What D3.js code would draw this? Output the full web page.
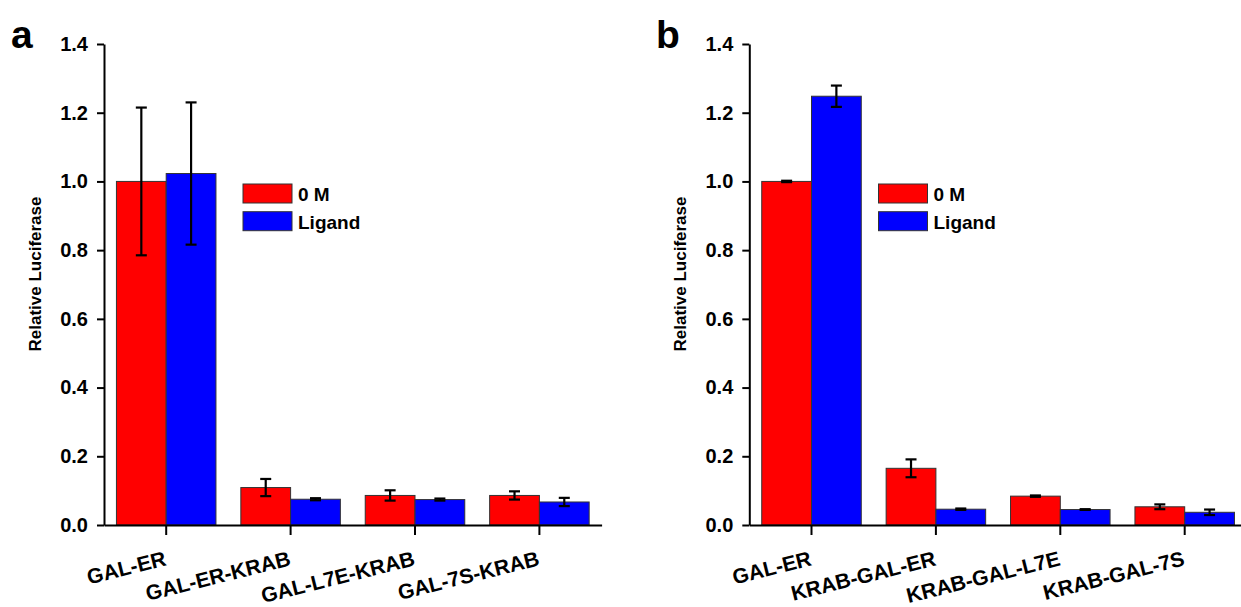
<!DOCTYPE html>
<html>
<head>
<meta charset="utf-8">
<script src="https://cdn.jsdelivr.net/npm/d3@7"></script>
<style>
  html, body { margin: 0; padding: 0; background: #fff; }
  svg { display: block; }
  text { font-family: "Liberation Sans", Arial, Helvetica, sans-serif; font-weight: bold; fill: #000; }
</style>
</head>
<body>
<svg id="chart" width="1241" height="607"></svg>
<script>
// Series and shared tick values
const seriesNames = ["0 M", "Ligand"];
const seriesColors = ["#ff0000", "#0000ff"];
const yTicks = [0, 0.2, 0.4, 0.6, 0.8, 1.0, 1.2, 1.4];

// Panel a: GAL fusion constructs
const catsA = ["GAL-ER", "GAL-ER-KRAB", "GAL-L7E-KRAB", "GAL-7S-KRAB"];
const zeroA = [1.000, 0.109, 0.086, 0.086];
const zeroErrA = [0.215, 0.025, 0.015, 0.012];
const ligandA = [1.023, 0.075, 0.074, 0.067];
const ligandErrA = [0.207, 0.003, 0.003, 0.012];

// Panel b: KRAB-GAL fusion constructs
const catsB = ["GAL-ER", "KRAB-GAL-ER", "KRAB-GAL-L7E", "KRAB-GAL-7S"];
const zeroB = [1.000, 0.165, 0.084, 0.053];
const zeroErrB = [0.002, 0.026, 0.002, 0.007];
const ligandB = [1.248, 0.046, 0.045, 0.037];
const ligandErrB = [0.031, 0.002, 0.001, 0.008];

const svg = d3.select("#chart");

function drawPanel(cfg) {
  const g = svg.append("g");
  const y = d3.scaleLinear().domain([0, 1.4]).range([525, 44]);
  const x = d3.scaleBand().domain(cfg.cats).range([cfg.x0, cfg.x0 + 4 * 124.4])
    .paddingInner(0.2).paddingOuter(0.1);
  const xs = d3.scaleBand().domain(seriesNames).range([0, x.bandwidth()]);

  const rows = [];
  cfg.cats.forEach((c, i) => {
    rows.push({ cat: c, s: 0, v: cfg.zero[i], e: cfg.zeroErr[i] });
    rows.push({ cat: c, s: 1, v: cfg.ligand[i], e: cfg.ligandErr[i] });
  });

  // bars
  g.selectAll("rect.bar").data(rows).join("rect")
    .attr("class", "bar")
    .attr("x", d => x(d.cat) + xs(seriesNames[d.s]))
    .attr("y", d => y(d.v))
    .attr("width", xs.bandwidth())
    .attr("height", d => y(0) - y(d.v))
    .attr("fill", d => seriesColors[d.s])
    .attr("stroke", "#333")
    .attr("stroke-width", 1);

  // error bars
  const eb = g.selectAll("g.err").data(rows).join("g").attr("class", "err")
    .attr("stroke", "#000").attr("stroke-width", 2.2);
  const cx = d => x(d.cat) + xs(seriesNames[d.s]) + xs.bandwidth() / 2;
  eb.append("line")
    .attr("x1", cx).attr("x2", cx)
    .attr("y1", d => y(d.v + d.e)).attr("y2", d => y(d.v - d.e));
  eb.append("line")
    .attr("x1", d => cx(d) - 5.5).attr("x2", d => cx(d) + 5.5)
    .attr("y1", d => y(d.v + d.e)).attr("y2", d => y(d.v + d.e));
  eb.append("line")
    .attr("x1", d => cx(d) - 5.5).attr("x2", d => cx(d) + 5.5)
    .attr("y1", d => y(d.v - d.e)).attr("y2", d => y(d.v - d.e));

  // y axis
  const ya = g.append("g").attr("transform", `translate(${cfg.x0},0)`)
    .call(d3.axisLeft(y).tickValues(yTicks).tickSize(7).tickSizeOuter(0).tickPadding(9)
      .tickFormat(d3.format(".1f")));
  ya.selectAll("path, line").attr("stroke", "#000").attr("stroke-width", 2);
  ya.selectAll("text").style("font-size", "20px").attr("fill", "#000");

  // x axis with slanted category labels
  const xa = g.append("g").attr("transform", `translate(0,${y(0)})`)
    .call(d3.axisBottom(x).tickSize(10).tickSizeOuter(0));
  xa.selectAll("path, line").attr("stroke", "#000").attr("stroke-width", 2);
  xa.selectAll("text")
    .style("font-size", "21px")
    .attr("fill", "#000")
    .attr("text-anchor", "end")
    .attr("x", 1).attr("y", 40).attr("dy", 0)
    .attr("transform", "rotate(-14, 1, 40)");

  // y axis title
  g.append("text")
    .attr("transform", `translate(${cfg.titleX},274) rotate(-90)`)
    .attr("text-anchor", "middle")
    .style("font-size", "17px")
    .text("Relative Luciferase");

  // panel letter
  g.append("text")
    .attr("x", cfg.letterX).attr("y", 48)
    .style("font-size", "39px")
    .text(cfg.letter);

  // legend
  const lg = g.append("g").attr("transform", `translate(${cfg.legendX},184)`);
  seriesNames.forEach((name, i) => {
    lg.append("rect")
      .attr("x", 0).attr("y", i * 27.7)
      .attr("width", 49).attr("height", 19)
      .attr("fill", seriesColors[i]).attr("stroke", "#333").attr("stroke-width", 1);
    lg.append("text")
      .attr("x", 55).attr("y", i * 27.7 + 17)
      .style("font-size", "19px")
      .text(name);
  });
}

drawPanel({ letter: "a", letterX: 11, x0: 104, titleX: 41, legendX: 243,
  cats: catsA, zero: zeroA, zeroErr: zeroErrA, ligand: ligandA, ligandErr: ligandErrA });
drawPanel({ letter: "b", letterX: 656, x0: 749.3, titleX: 686, legendX: 878.5,
  cats: catsB, zero: zeroB, zeroErr: zeroErrB, ligand: ligandB, ligandErr: ligandErrB });
</script>
</body>
</html>
